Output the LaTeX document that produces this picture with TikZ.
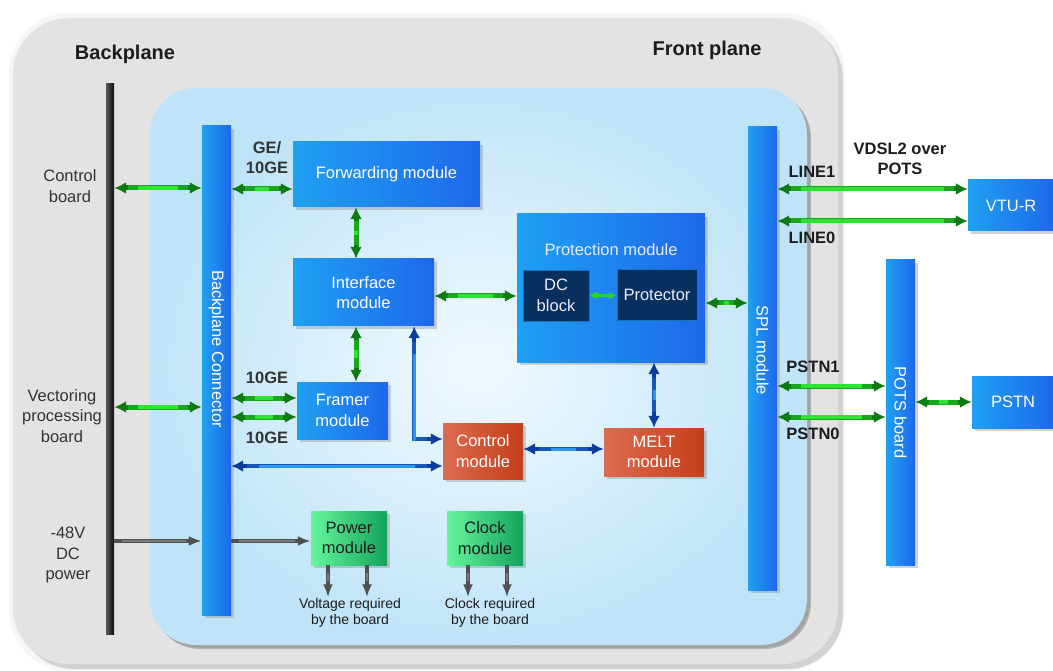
\documentclass[tikz,border=0pt]{standalone}
\usepackage{fontspec}
\setmainfont{Liberation Sans}
\usetikzlibrary{arrows.meta,calc,positioning,shadows}
\definecolor{ink}{HTML}{1C1C1C}
\definecolor{tagink}{HTML}{333333}
\definecolor{chassis}{HTML}{E3E3E3}
\definecolor{boardedge}{HTML}{BFE4F8}
\definecolor{boardmid}{HTML}{F3FAFE}
\definecolor{modleft}{HTML}{1FA0F2}
\definecolor{modright}{HTML}{1E68EA}
\definecolor{navy}{HTML}{07305F}
\definecolor{redleft}{HTML}{DC6C52}
\definecolor{redright}{HTML}{C53E18}
\definecolor{grnleft}{HTML}{66F59C}
\definecolor{grnright}{HTML}{13A35D}
\definecolor{gdark}{HTML}{0E7A12}
\definecolor{gmid}{HTML}{17A819}
\definecolor{glight}{HTML}{2EE432}
\definecolor{bdark}{HTML}{0B3D9C}
\definecolor{bmid}{HTML}{1558BC}
\definecolor{blight}{HTML}{2C98EC}
\definecolor{gydark}{HTML}{505050}
\definecolor{gylight}{HTML}{7A7A7A}
\tikzset{
  font=\fontsize{16.5}{20.5}\selectfont,
  shade/.style={drop shadow={opacity=.35, shadow xshift=3pt, shadow yshift=-3pt}},
  module/.style={rectangle, left color=modleft, right color=modright, text=white,
                 align=center, inner sep=0pt, shade},
  redmod/.style={module, left color=redleft, right color=redright},
  grnmod/.style={module, left color=grnleft, right color=grnright, text=ink},
  inbox/.style={rectangle, fill=navy, draw=modleft!60!navy, line width=.4pt,
                text=white!92!blue, align=center, inner sep=0pt},
  bar/.style={rectangle, left color=modleft, right color=modright, inner sep=0pt,
              minimum width=29pt, shade},
  bartext/.style={rotate=-90, text=white, inner sep=0pt},
  title/.style={font=\fontsize{20}{24}\selectfont\bfseries, text=ink},
  tag/.style={font=\fontsize{16.5}{20}\selectfont\bfseries, text=ink, align=center},
  side/.style={text=tagink, align=center, inner sep=1pt},
  note/.style={font=\fontsize{14}{16}\selectfont, text=ink, align=center, inner sep=1pt},
  garrow/.style={draw=gdark, line width=5pt,
                 {Latex[length=12pt,width=12pt]}-{Latex[length=12pt,width=12pt]},
                 postaction={draw=gmid, line width=5pt, -, shorten <=14pt, shorten >=14pt},
                 postaction={draw=glight, line width=3.4pt, -, shorten <=24pt, shorten >=24pt}},
  litearrow/.style={draw=glight!85!gdark, line width=3pt,
                    {Latex[length=8pt,width=8pt]}-{Latex[length=8pt,width=8pt]}},
  barrow/.style={draw=bdark, line width=4.5pt,
                 {Latex[length=12pt,width=12pt]}-{Latex[length=12pt,width=12pt]},
                 postaction={draw=bmid, line width=4.5pt, -, shorten <=16pt, shorten >=16pt},
                 postaction={draw=blight, line width=3pt, -, shorten <=28pt, shorten >=28pt}},
  gyarrow/.style={draw=gydark, line width=3.5pt, -{Latex[length=13pt,width=10pt]},
                  postaction={draw=gylight, line width=2pt, -, shorten <=8pt, shorten >=16pt}}
}
\begin{document}
\begin{tikzpicture}[x=1pt,y=-1pt]
\useasboundingbox (0,0) rectangle (1053,671);
\fill[white] (0,0) rectangle (1053,671);

% chassis and board
\fill[black, opacity=.035, rounded corners=60pt] (9,13) rectangle (845,671);
\path[fill=chassis, rounded corners=56pt,
      drop shadow={opacity=.3, shadow xshift=5pt, shadow yshift=-5pt}]
  (13,18) rectangle (838,664);
\shade[inner color=boardmid, outer color=boardedge, rounded corners=46pt,
       drop shadow={opacity=.45, shadow xshift=4pt, shadow yshift=-4pt}]
  (150,88) rectangle (807,645);

\node[title] (bplbl) at (125,54) {Backplane};
\node[title] (fplbl) at (707,50) {Front plane};

% backplane bus and connectors
\node[rectangle, left color=black!65, right color=black!95, inner sep=0pt,
      minimum width=8pt, minimum height=550pt] (bp) at (110,359) {};
\node[bar, minimum height=489pt] (conn) at (216.5,370.5) {};
\node[bartext] (connlbl) at (216.5,349) {Backplane Connector};
\node[bar, minimum height=463pt] (spl) at (762.5,358.5) {};
\node[bartext] (spllbl) at (762.5,350) {SPL module};
\node[bar, minimum height=305pt] (pots) at (900.5,412.5) {};
\node[bartext] (potslbl) at (900.5,412.5) {POTS board};

% modules
\node[module, minimum width=187pt, minimum height=65pt] (fwd) at (386.5,174.5) {Forwarding module};
\node[module, minimum width=141pt, minimum height=67pt] (intf) at (363.5,292.5) {Interface\\module};
\node[module, minimum width=91pt, minimum height=57pt] (framer) at (342.5,410.5) {Framer\\module};
\node[module, minimum width=188pt, minimum height=148pt] (prot) at (611,288) {};
\node[text=white!92!blue] (protlbl) at (611,250) {Protection module};
\node[inbox, minimum width=66pt, minimum height=51pt] (dc) at (556,295.5) {DC\\block};
\node[inbox, minimum width=80pt, minimum height=51pt] (prtc) at (657,294.5) {Protector};
\node[redmod, minimum width=80pt, minimum height=56pt] (ctrl) at (483,451) {Control\\module};
\node[redmod, minimum width=100pt, minimum height=48pt] (melt) at (654,452) {MELT\\module};
\node[grnmod, minimum width=76pt, minimum height=54pt] (pwr) at (349,538) {Power\\module};
\node[grnmod, minimum width=76pt, minimum height=54pt] (clk) at (485,538) {Clock\\module};
\node[module, minimum width=86pt, minimum height=51pt] (vtur) at (1011,205.5) {VTU-R};
\node[module, minimum width=82pt, minimum height=52pt] (pstn) at (1013,402) {PSTN};

% labels
\node[side] (cbl) at (70,186) {Control\\board};
\node[side] (vpb) at (62,416) {Vectoring\\processing\\board};
\node[side] (dcp) at (68,555) {-48V\\DC\\power};
\node[tag, text=tagink] (ge) at (267,158) {GE/\\10GE};
\node[tag, text=tagink] (ge1) at (267,378) {10GE};
\node[tag, text=tagink] (ge0) at (267,438) {10GE};
\node[tag] (l1) at (812,172) {LINE1};
\node[tag] (l0) at (812,238) {LINE0};
\node[tag] (vdsl) at (900,159) {VDSL2 over\\POTS};
\node[tag] (p1) at (813,367) {PSTN1};
\node[tag] (p0) at (813,434) {PSTN0};
\node[note] (volt) at (350,613) {Voltage required\\by the board};
\node[note] (clkreq) at (490,613) {Clock required\\by the board};

% data links
\draw[garrow] ($(bp.east |- cbl)+(0,2)$) -- ($(conn.west |- cbl)+(0,2)$);
\draw[garrow] ($(bp.east |- vpb)+(0,-9)$) -- ($(conn.west |- vpb)+(0,-9)$);
\draw[garrow] ($(conn.east |- fwd.west)+(0,14.5)$) -- ($(fwd.west)+(0,14.5)$);
\draw[garrow] ($(intf.north |- fwd.south)+(-7.5,0)$) -- ($(intf.north)+(-7.5,0)$);
\draw[garrow] ($(intf.south)+(-7.5,0)$) -- ($(intf.south |- framer.north)+(-7.5,0)$);
\draw[garrow] ($(intf.east)+(0,3.5)$) -- ($(prot.west |- intf.east)+(0,3.5)$);
\draw[litearrow] (dc.east) -- (prtc.west |- dc.east);
\draw[garrow] ($(prot.east)+(0,15)$) -- ($(spl.west |- prot.east)+(0,15)$);
\draw[garrow] ($(conn.east |- framer.west)+(0,-12.5)$) -- ($(framer.west)+(0,-12.5)$);
\draw[garrow] ($(conn.east |- framer.west)+(0,6.5)$) -- ($(framer.west)+(0,6.5)$);
\draw[garrow] ($(spl.east |- vtur.west)+(0,-16.5)$) -- ($(vtur.west)+(0,-16.5)$);
\draw[garrow] ($(spl.east |- vtur.west)+(0,15.5)$) -- ($(vtur.west)+(0,15.5)$);
\draw[garrow] ($(spl.east |- pots.west)+(0,-26.5)$) -- ($(pots.west)+(0,-26.5)$);
\draw[garrow] ($(spl.east |- pots.west)+(0,4.5)$) -- ($(pots.west)+(0,4.5)$);
\draw[garrow] (pots.east |- pstn.west) -- (pstn.west);

% management links
\draw[barrow] ($(conn.east |- ctrl.west)+(0,15)$) -- ($(ctrl.west)+(0,15)$);
\draw[barrow] ($(intf.south east)+(-20,0)$) |- ($(ctrl.west)+(0,-12)$);
\draw[barrow] ($(ctrl.east)+(0,-2)$) -- ($(melt.west |- ctrl.east)+(0,-2)$);
\draw[barrow] (melt.north |- prot.south) -- (melt.north);

% power feed and outputs
\draw[gyarrow] ($(bp.east |- dcp)+(0,-14)$) -- ($(conn.west |- dcp)+(0,-14)$);
\draw[gyarrow] ($(conn.east |- pwr.west)+(0,3)$) -- ($(pwr.west)+(0,3)$);
\foreach \dx in {-21,18}
  \draw[gyarrow] ($(pwr.south)+(\dx,0)$) -- ($(pwr.south |- volt.north)+(\dx,0)$);
\foreach \dx in {-17,22}
  \draw[gyarrow] ($(clk.south)+(\dx,0)$) -- ($(clk.south |- clkreq.north)+(\dx,0)$);

\end{tikzpicture}
\end{document}
